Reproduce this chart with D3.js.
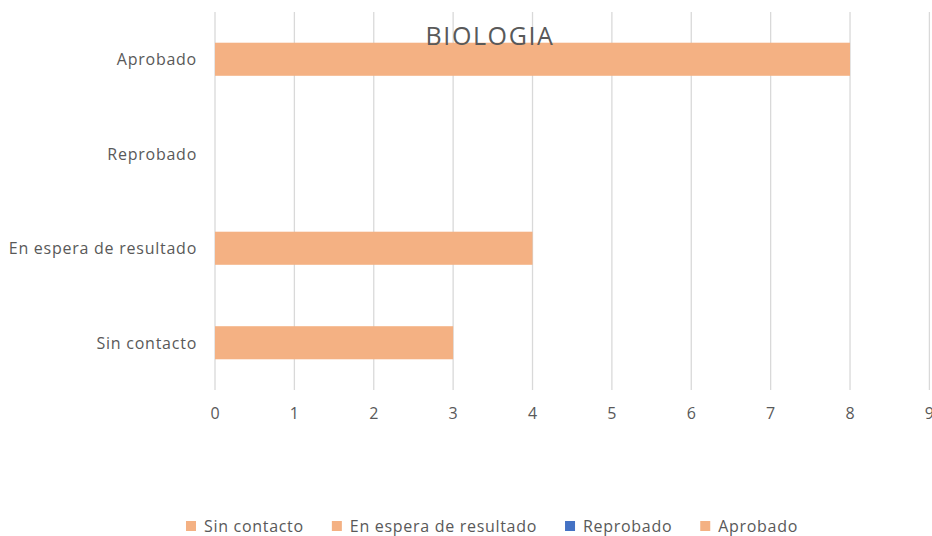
<!DOCTYPE html>
<html>
<head>
<meta charset="utf-8">
<script src="https://cdn.jsdelivr.net/npm/d3@7"></script>
<style>
  body { margin: 0; background: #fff; }
  text { font-family: "Open Sans", "Noto Sans", sans-serif; fill: #595959; }
</style>
</head>
<body>
<svg id="chart" width="932" height="536"></svg>
<script>
const title = "BIOLOGIA";
const categories = ["Aprobado", "Reprobado", "En espera de resultado", "Sin contacto"];
const values = [8, 0, 4, 3];
const legendNames = ["Sin contacto", "En espera de resultado", "Reprobado", "Aprobado"];
const legendColors = ["#F4B183", "#F4B183", "#4472C4", "#F4B183"];
const xTicks = [0, 1, 2, 3, 4, 5, 6, 7, 8, 9];
const barColor = "#F4B183";

const svg = d3.select("#chart");
const plotLeft = 215, plotRight = 929.4, plotTop = 12, plotBottom = 390;

const x = d3.scaleLinear().domain([0, 9]).range([plotLeft, plotRight]);
const y = d3.scaleBand().domain(categories).range([plotTop, plotBottom])
  .paddingInner(0.65).paddingOuter(0.325);

// gridlines
svg.append("g").selectAll("line").data(xTicks).join("line")
  .attr("x1", d => x(d)).attr("x2", d => x(d))
  .attr("y1", plotTop).attr("y2", plotBottom)
  .attr("stroke", "#d9d9d9").attr("stroke-width", 1.3);

// bars
svg.append("g").selectAll("rect").data(categories).join("rect")
  .attr("x", x(0))
  .attr("y", d => y(d))
  .attr("width", (d, i) => x(values[i]) - x(0))
  .attr("height", y.bandwidth())
  .attr("fill", barColor);

// x axis labels
svg.append("g").selectAll("text").data(xTicks).join("text")
  .attr("x", d => x(d)).attr("y", 413)
  .attr("text-anchor", "middle").attr("dominant-baseline", "central")
  .attr("font-size", 16).text(d => d);

// category labels
svg.append("g").selectAll("text").data(categories).join("text")
  .attr("x", 197).attr("y", d => y(d) + y.bandwidth() / 2)
  .attr("text-anchor", "end").attr("dominant-baseline", "central")
  .attr("font-size", 16).attr("letter-spacing", 0.75).text(d => d);

// title
svg.append("text").attr("x", 490).attr("y", 35)
  .attr("text-anchor", "middle").attr("dominant-baseline", "central")
  .attr("font-size", 25).attr("letter-spacing", 1.6).text(title);

// legend
const lg = svg.append("g");
const items = lg.selectAll("g").data(legendNames).join("g");
items.append("rect").attr("width", 10).attr("height", 10).attr("y", -5)
  .attr("fill", (d, i) => legendColors[i]);
items.append("text").attr("x", 18).attr("y", 0)
  .attr("dominant-baseline", "central").attr("font-size", 16)
  .attr("letter-spacing", 0.7).text(d => d);
let cx = 0;
const pos = [];
items.each(function(d, i) {
  const w = 18 + d3.select(this).select("text").node().getComputedTextLength();
  pos.push(cx);
  cx += w + 28;
});
const total = cx - 28;
const start = 492 - total / 2;
items.attr("transform", (d, i) => `translate(${start + pos[i]},526)`);
</script>
</body>
</html>
